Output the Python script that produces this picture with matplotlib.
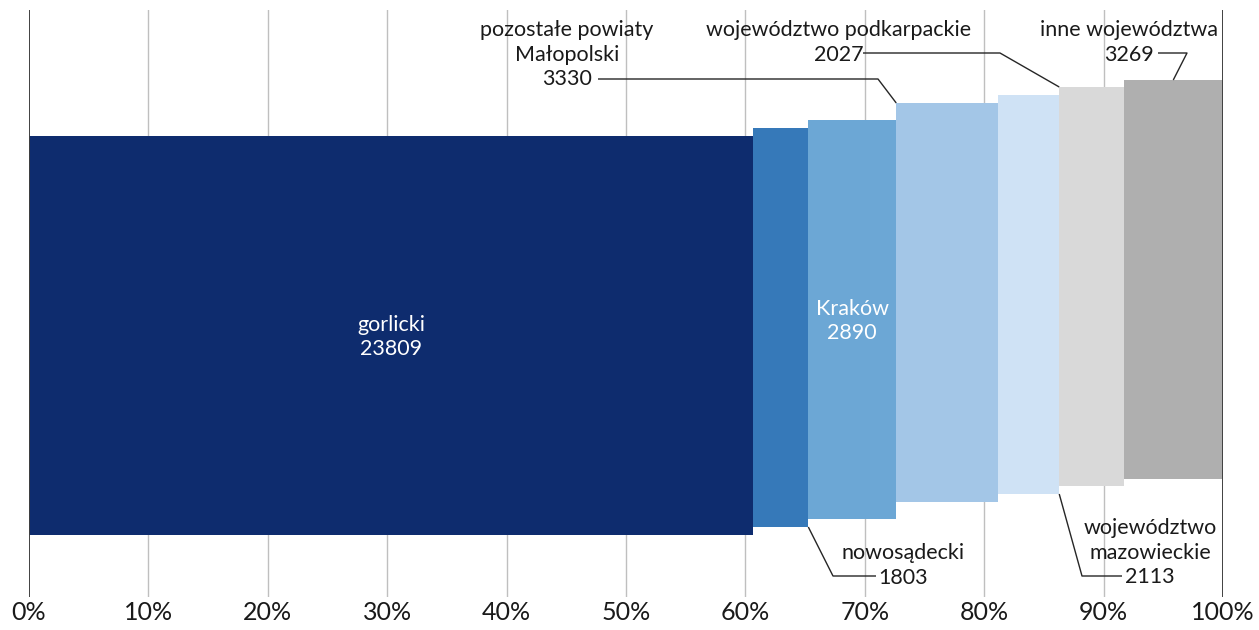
import numpy as np
import matplotlib
matplotlib.use("Agg")
import matplotlib.pyplot as plt

plt.rcParams['font.family'] = ['Lato', 'DejaVu Sans']

# ---- data ----
categories = ["gorlicki", "nowosądecki", "Kraków", "pozostałe powiaty\nMałopolski",
              "województwo podkarpackie", "województwo\nmazowieckie", "inne województwa"]
values = [23809, 1803, 2890, 3330, 2027, 2113, 3269]
tick_labels = ["0%", "10%", "20%", "30%", "40%", "50%", "60%", "70%", "80%", "90%", "100%"]

# ---- style ----
colors = ["#0E2C6E", "#3679B9", "#6CA7D5", "#A3C6E7", "#CFE2F5", "#D9D9D9", "#AFAFAF"]
bar_top_px = [136, 128, 120, 103, 95, 87, 80]   # vertical staircase offsets (layout)
bar_h_px = 399

W, H = 1259, 630
X0, X1, Y0, Y1 = 29, 1223, 10, 597

fig = plt.figure(figsize=(W / 100, H / 100), dpi=100)
ax = fig.add_axes([X0 / W, 1 - Y1 / H, (X1 - X0) / W, (Y1 - Y0) / H])
ax.set_xlim(0, 1)
ax.set_ylim(Y1, Y0)

def px(xp):
    return (xp - X0) / (X1 - X0)

vals = np.array(values, dtype=float)
frac = vals / vals.sum()
left = np.concatenate([[0], np.cumsum(frac)[:-1]])
right = left + frac

# gridlines
for t in np.arange(0.1, 0.95, 0.1):
    ax.axvline(t, color="#BFBFBF", lw=1, zorder=0)
for t in (0, 1):
    ax.axvline(t, color="#404040", lw=1.4, zorder=3)

ax.bar(left, bar_h_px, width=frac, bottom=bar_top_px, align="edge",
       color=colors, linewidth=0, zorder=2)

for s in ax.spines.values():
    s.set_visible(False)
ax.set_yticks([])
ax.set_xticks(np.linspace(0, 1, 11))
ax.set_xticklabels(tick_labels, fontsize=18, color="#1a1a1a")
ax.tick_params(axis="x", length=0, pad=3)

FS = 15.5
PITCH = 24.5
TXT = "#1a1a1a"

def label(xc, ycenter_first, lines, color=TXT):
    for i, ln in enumerate(lines):
        ax.text(xc, ycenter_first + i * PITCH + 7.4, ln, ha="center", va="baseline",
                fontsize=FS, color=color, zorder=5)

def lab_lines(i):
    return categories[i].split("\n") + [str(values[i])]

# inside labels
for i in (0, 2):
    xc = (left[i] + right[i]) / 2
    yc = bar_top_px[i] + bar_h_px / 2
    lines = lab_lines(i)
    label(xc, yc - PITCH * (len(lines) - 1) / 2, lines, color="white")

# outside labels
label(px(567), 29, lab_lines(3))
label(px(839), 29, lab_lines(4))
label(px(1129), 29, lab_lines(6))
label(px(903), 552, lab_lines(1))
label(px(1150), 527, lab_lines(5))

LC = "#262626"
def leader(pts):
    xs, ys = zip(*pts)
    ax.plot(xs, ys, color=LC, lw=1, zorder=4, solid_capstyle="butt")

leader([(px(598), 79), (px(878), 79), (left[3], bar_top_px[3])])
leader([(px(863), 53), (px(1000), 53), (left[5], bar_top_px[5])])
leader([(px(1158), 53), (px(1187), 53), ((left[6] + right[6]) / 2, bar_top_px[6])])
leader([(right[1], bar_top_px[1] + bar_h_px), (px(833), 576), (px(876), 576)])
leader([(right[4], bar_top_px[4] + bar_h_px), (px(1082), 576), (px(1122), 576)])

fig.savefig("out.png", dpi=100)
